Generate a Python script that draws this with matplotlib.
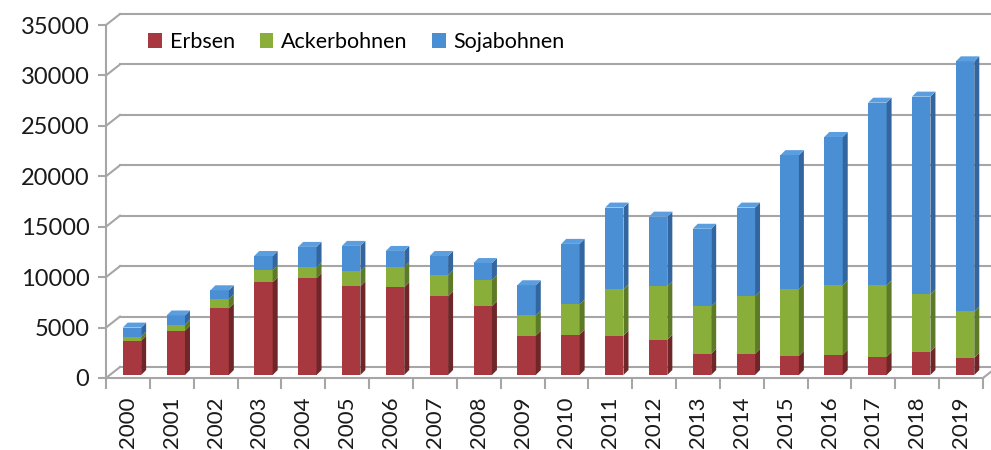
import matplotlib

matplotlib.use("Agg")
import matplotlib.pyplot as plt
from matplotlib.patches import Polygon, Patch

plt.rcParams["font.family"] = ["Lato", "DejaVu Sans"]

years = [str(y) for y in range(2000, 2020)]
erbsen = [3400, 4400, 6600, 9200, 9600, 8800, 8700, 7800, 6800, 3900,
          4000, 3900, 3500, 2100, 2100, 1900, 2000, 1800, 2300, 1700]
ackerbohnen = [400, 600, 900, 1200, 1100, 1500, 2000, 2100, 2600, 2000,
               3000, 4600, 5300, 4700, 5700, 6600, 6900, 7100, 5700, 4600]
sojabohnen = [900, 900, 900, 1400, 2000, 2500, 1600, 1900, 1700, 3000,
              6000, 8100, 6900, 7700, 8800, 13300, 14700, 18100, 19600, 24800]
yticks = list(range(0, 35001, 5000))

series = [
    ("Erbsen", erbsen, "#a8383f", "#6e2629"),
    ("Ackerbohnen", ackerbohnen, "#8aae3a", "#5d7a27"),
    ("Sojabohnen", sojabohnen, "#4a8fd4", "#33669e"),
]

fig = plt.figure(figsize=(9.91, 4.50), dpi=100)
ax = fig.add_axes([106 / 991, 1 - 378 / 450, 877 / 991, 353 / 450])
ax.set_xlim(0, len(years))
ax.set_ylim(0, 35000)

# pixel -> data conversions for the fake 3d offsets
px_x = len(years) / 877.0
px_y = 35000 / 353.0
wall_dx, wall_dy = 14 * px_x, 11 * px_y
bar_dx, bar_dy = 5 * px_x, 5 * px_y
shift_x, base_y = 4 * px_x, 3 * px_y
width = 0.42

grid_col = "#a6a6a6"
for y in yticks:
    ax.plot([0, wall_dx], [y, y + wall_dy], color=grid_col, lw=1.5, clip_on=False, zorder=1)
    ax.plot([wall_dx, len(years) + wall_dx], [y + wall_dy, y + wall_dy],
            color=grid_col, lw=1.5, clip_on=False, zorder=1)
ax.plot([len(years), len(years) + wall_dx], [0, wall_dy], color=grid_col, lw=1.5,
        clip_on=False, zorder=1)

centers = [i + 0.5 + shift_x for i in range(len(years))]
bottoms = [base_y] * len(years)
for k, (name, vals, face, side) in enumerate(series):
    ax.bar(centers, vals, width=width, bottom=bottoms, color=face, zorder=3)
    for i, v in enumerate(vals):
        x1 = centers[i] + width / 2
        b, t = bottoms[i], bottoms[i] + v
        ax.add_patch(Polygon([(x1, b), (x1 + bar_dx, b + bar_dy), (x1 + bar_dx, t + bar_dy), (x1, t)],
                             closed=True, facecolor=side, edgecolor="none", zorder=3))
        if k == len(series) - 1:
            x0 = centers[i] - width / 2
            ax.add_patch(Polygon([(x0, t), (x0 + bar_dx, t + bar_dy), (x1 + bar_dx, t + bar_dy), (x1, t)],
                                 closed=True, facecolor="#5b9ee0", edgecolor="none", zorder=3))
    bottoms = [bottoms[i] + vals[i] for i in range(len(years))]

for s in ["top", "right"]:
    ax.spines[s].set_visible(False)
for s in ["left", "bottom"]:
    ax.spines[s].set_color(grid_col)
    ax.spines[s].set_linewidth(1.5)

ax.set_yticks(yticks)
ax.set_yticklabels([str(y) for y in yticks], fontsize=17, color="#1a1a1a")
ax.tick_params(axis="y", length=6, width=1.5, color=grid_col, pad=6)

ax.set_xticks(range(len(years) + 1))
ax.set_xticklabels([])
ax.set_xticks([i + 0.5 for i in range(len(years))], minor=True)
ax.set_xticklabels(years, minor=True, rotation=90, fontsize=16, color="#1a1a1a")
ax.tick_params(axis="x", which="major", length=8, width=1.5, color=grid_col)
ax.tick_params(axis="x", which="minor", length=0, pad=13)

handles = [Patch(facecolor=face, edgecolor="none", label=name) for name, _, face, _ in series]
fig.legend(handles=handles, loc="center left", bbox_to_anchor=(142 / 991, 1 - 42 / 450),
           ncol=3, frameon=False, fontsize=15.5, handlelength=0.64, handleheight=0.64,
           handletextpad=0.35, columnspacing=1.15, borderaxespad=0, borderpad=0.3)

fig.savefig("out.png", dpi=100)
